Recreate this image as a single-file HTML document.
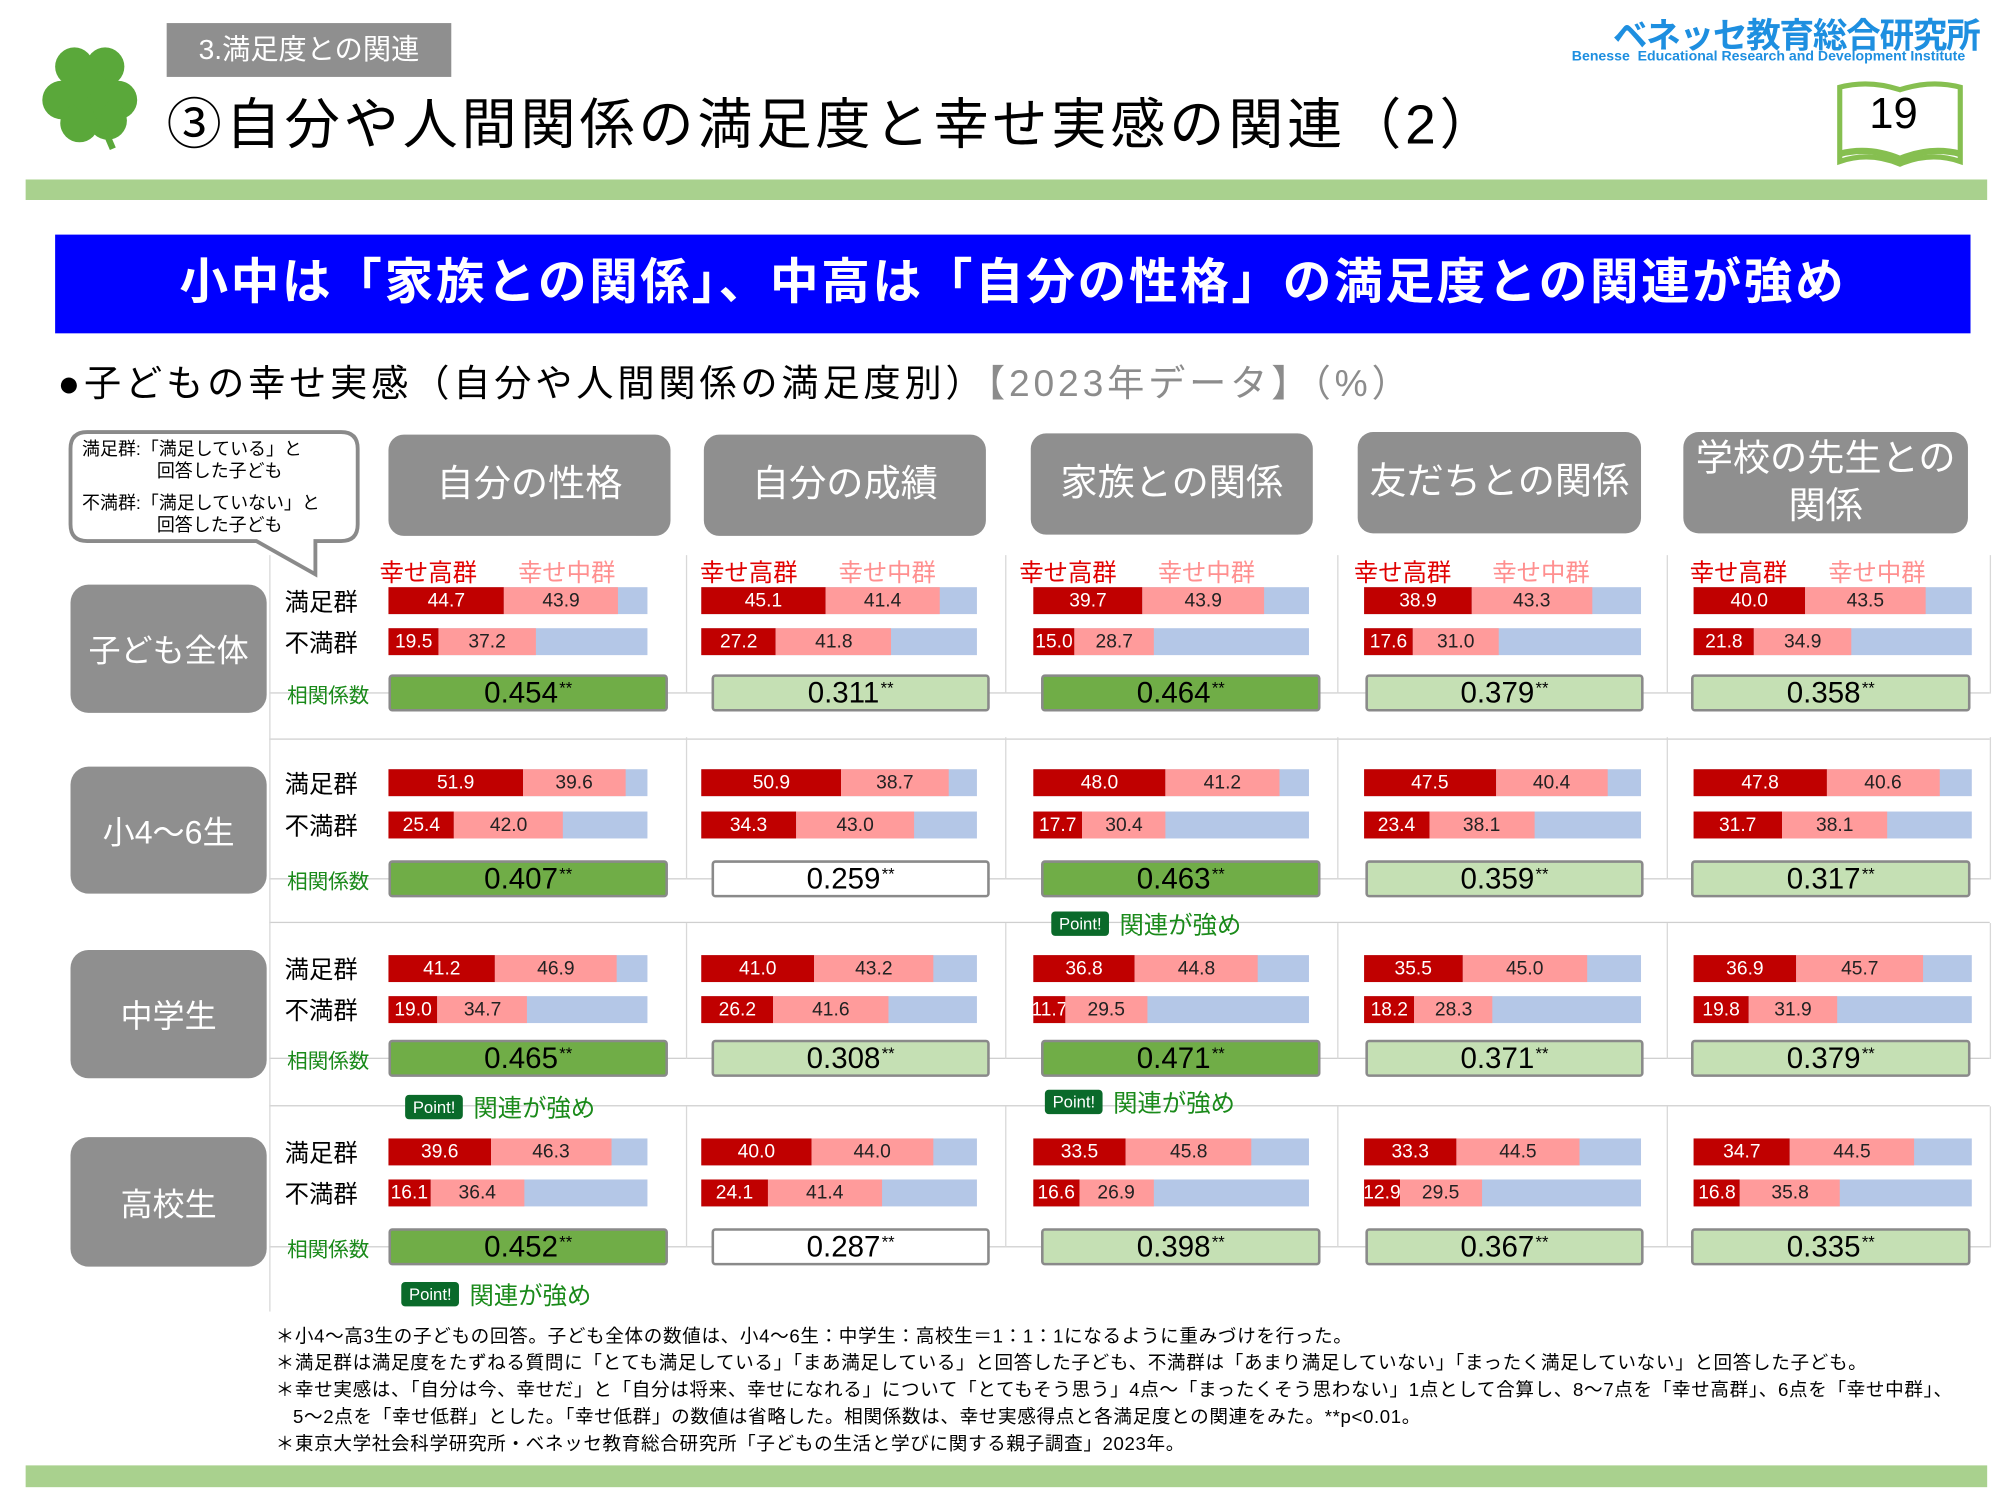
<!DOCTYPE html>
<html><head><meta charset="utf-8">
<style>
html,body{margin:0;padding:0;background:#fff;}
body{width:2000px;height:1500px;overflow:hidden;position:relative;}
#c{position:absolute;left:0;top:0;width:1560px;height:1170px;transform:scale(1.28205);transform-origin:0 0;font-family:"Liberation Sans","Noto Sans CJK JP",sans-serif;}
.a{position:absolute;white-space:nowrap;}
.hdr{position:absolute;background:#8f8f8f;border-radius:12px;color:#fff;font-size:29px;display:flex;align-items:center;justify-content:center;text-align:center;line-height:1.25;}
.rl{position:absolute;background:#8f8f8f;border-radius:14px;color:#fff;font-size:25px;display:flex;align-items:center;justify-content:center;left:55px;width:153px;}
.seg{position:absolute;height:100%;top:0;font-size:15px;display:flex;align-items:center;justify-content:center;overflow:hidden;}
.bar{position:absolute;height:21px;}
.corr{position:absolute;height:25px;border:2px solid #8a8a8a;border-radius:3px;font-size:23px;display:flex;align-items:center;justify-content:center;color:#000;}
.corr sup{font-size:13px;margin-left:1px;position:relative;top:-4px;}
.pt{position:absolute;font-size:19px;color:#1a8a1a;}
.pt b{display:inline-block;background:#0a6a2a;color:#fff;font-size:13px;font-weight:normal;padding:2px 6px;border-radius:3px;margin-right:8px;vertical-align:3px;}
.hl{position:absolute;height:1px;background:#cfcfcf;}
.vl{position:absolute;width:1px;background:#d8d8d8;}
</style></head><body><div id="c">
<svg class="a" style="left:28px;top:30px" width="86" height="88" viewBox="0 0 86 88">
<g fill="#5aa83a"><circle cx="30" cy="22" r="15"/><circle cx="54" cy="22" r="15"/><circle cx="20" cy="48" r="15"/><circle cx="64" cy="48" r="15"/><circle cx="34" cy="66" r="15"/><circle cx="56" cy="64" r="15"/><circle cx="42" cy="42" r="16"/></g>
<path d="M42 44 L60 86" stroke="#5aa83a" stroke-width="5"/></svg>
<div class="a" style="left:130px;top:18px;width:222px;height:42px;background:#8f8f8f;color:#fff;font-size:22px;line-height:42px;text-align:center;">3.満足度との関連</div>
<div class="a" style="left:130px;top:70px;font-size:43px;line-height:56px;color:#000;letter-spacing:3px;">③自分や人間関係の満足度と幸せ実感の関連（2）</div>
<div class="a" style="left:1258px;top:6px;font-size:27px;font-weight:bold;color:#1e8fe0;letter-spacing:-1px;">ベネッセ教育総合研究所</div>
<div class="a" style="left:1226px;top:38px;font-size:11px;font-weight:bold;color:#1e8fe0;">Benesse&nbsp; Educational Research and Development Institute</div>
<svg class="a" style="left:1430px;top:62px" width="104" height="70" viewBox="0 0 104 70"><path d="M5 6 Q28 0 52 8 Q76 0 99 6 L99 64 Q76 56 52 66 Q28 56 5 64 Z" fill="#fff" stroke="#86bf50" stroke-width="4"/><path d="M5 58 Q28 52 52 62 Q76 52 99 58" fill="none" stroke="#86bf50" stroke-width="5"/></svg>
<div class="a" style="left:1458px;top:70px;font-size:34px;color:#000;">19</div>
<div class="a" style="left:20px;top:140px;width:1530px;height:16px;background:#a9d18e;"></div>
<div class="a" style="left:43px;top:183px;width:1494px;height:77px;background:#0000ff;color:#fff;font-size:38px;font-weight:bold;line-height:77px;text-align:center;letter-spacing:2px;">小中は「家族との関係」、中高は「自分の性格」の満足度との関連が強め</div>
<div class="a" style="left:45px;top:276px;font-size:29px;color:#000;letter-spacing:3px;">●子どもの幸せ実感（自分や人間関係の満足度別）<span style="color:#8c8c8c">【2023年データ】（%）</span></div>
<svg class="a" style="left:50px;top:333px" width="240" height="122" viewBox="0 0 240 122"><path d="M18 4 H216 Q229 4 229 17 V76 Q229 89 216 89 H196 L196 115 L150 89 H18 Q5 89 5 76 V17 Q5 4 18 4 Z" fill="#fff" stroke="#8a8a8a" stroke-width="3"/></svg>
<div class="a" style="left:64px;top:342px;font-size:14px;line-height:17px;color:#000;">満足群:「満足している」と<br>&nbsp;&nbsp;&nbsp;&nbsp;&nbsp;&nbsp;&nbsp;&nbsp;&nbsp;&nbsp;&nbsp;&nbsp;&nbsp;&nbsp;&nbsp;回答した子ども</div>
<div class="a" style="left:64px;top:384px;font-size:14px;line-height:17px;color:#000;">不満群:「満足していない」と<br>&nbsp;&nbsp;&nbsp;&nbsp;&nbsp;&nbsp;&nbsp;&nbsp;&nbsp;&nbsp;&nbsp;&nbsp;&nbsp;&nbsp;&nbsp;回答した子ども</div>
<div id="g"></div>
<div class="a" style="left:215px;top:1033px;font-size:14.5px;line-height:21px;color:#000;letter-spacing:0.5px;">＊小4～高3生の子どもの回答。子ども全体の数値は、小4～6生：中学生：高校生＝1：1：1になるように重みづけを行った。<br>＊満足群は満足度をたずねる質問に「とても満足している」「まあ満足している」と回答した子ども、不満群は「あまり満足していない」「まったく満足していない」と回答した子ども。<br>＊幸せ実感は、「自分は今、幸せだ」と「自分は将来、幸せになれる」について「とてもそう思う」4点～「まったくそう思わない」1点として合算し、8～7点を「幸せ高群」、6点を「幸せ中群」、<br>&nbsp;&nbsp;&nbsp;5～2点を「幸せ低群」とした。「幸せ低群」の数値は省略した。相関係数は、幸せ実感得点と各満足度との関連をみた。**p&lt;0.01。<br>＊東京大学社会科学研究所・ベネッセ教育総合研究所「子どもの生活と学びに関する親子調査」2023年。</div>
<div class="a" style="left:20px;top:1143px;width:1530px;height:17px;background:#a9d18e;"></div>
</div>
<script>
var g=document.getElementById('g'),h='';
var cols=[{hx:303,hy:339,hw:220,t:'自分の性格',bx:303,bw:202,cx:303,cw:218,lx:296},
{hx:549,hy:339,hw:220,t:'自分の成績',bx:547,bw:215,cx:555,cw:217,lx:546},
{hx:804,hy:338,hw:220,t:'家族との関係',bx:806,bw:215,cx:812,cw:218,lx:795},
{hx:1059,hy:337,hw:221,t:'友だちとの関係',bx:1064,bw:216,cx:1065,cw:217,lx:1056},
{hx:1313,hy:337,hw:222,t:'学校の先生との<br>関係',bx:1321,bw:217,cx:1319,cw:218,lx:1318}];
var rows=[{l:'子ども全体',ry:456,rh:100,b1:458,b2:490,c:526},{l:'小4～6生',ry:598,rh:99,b1:600,b2:633,c:671},{l:'中学生',ry:741,rh:100,b1:745,b2:777,c:811},{l:'高校生',ry:887,rh:101,b1:888,b2:920,c:958}];
var D=[[[44.7,43.9,19.5,37.2,'.454',2],[51.9,39.6,25.4,42.0,'.407',2],[41.2,46.9,19.0,34.7,'.465',2],[39.6,46.3,16.1,36.4,'.452',2]],
[[45.1,41.4,27.2,41.8,'.311',1],[50.9,38.7,34.3,43.0,'.259',0],[41.0,43.2,26.2,41.6,'.308',1],[40.0,44.0,24.1,41.4,'.287',0]],
[[39.7,43.9,15.0,28.7,'.464',2],[48.0,41.2,17.7,30.4,'.463',2],[36.8,44.8,11.7,29.5,'.471',2],[33.5,45.8,16.6,26.9,'.398',1]],
[[38.9,43.3,17.6,31.0,'.379',1],[47.5,40.4,23.4,38.1,'.359',1],[35.5,45.0,18.2,28.3,'.371',1],[33.3,44.5,12.9,29.5,'.367',1]],
[[40.0,43.5,21.8,34.9,'.358',1],[47.8,40.6,31.7,38.1,'.317',1],[36.9,45.7,19.8,31.9,'.379',1],[34.7,44.5,16.8,35.8,'.335',1]]];
var fills=['#fff','#c5e0b4','#70ad47'];
[576,719,862].forEach(function(y){h+='<div class="hl" style="left:210px;top:'+y+'px;width:1342px"></div>';});
rows.forEach(function(r){h+='<div class="hl" style="left:210px;top:'+(r.c+14)+'px;width:1342px"></div>';});
[535,784,1043,1300,1552].forEach(function(x){rows.forEach(function(r){h+='<div class="vl" style="left:'+x+'px;top:'+(r.b1-25)+'px;height:'+(r.c-r.b1+40)+'px"></div>';});});
h+='<div class="vl" style="left:210px;top:433px;height:590px"></div>';
rows.forEach(function(r){h+='<div class="rl" style="top:'+r.ry+'px;height:'+r.rh+'px">'+r.l+'</div>';
h+='<div class="a" style="left:222px;top:'+(r.b1-3)+'px;font-size:19px">満足群</div>';
h+='<div class="a" style="left:222px;top:'+(r.b2-3)+'px;font-size:19px">不満群</div>';
h+='<div class="a" style="left:224px;top:'+(r.c+3)+'px;font-size:16px;color:#1a8a1a">相関係数</div>';});
function seg(x,w,bg,col,t){return '<div class="seg" style="left:'+x+'px;width:'+w+'px;background:'+bg+';color:'+col+'">'+(t||'')+'</div>';}
function bar(x,y,W,a,b){var wa=W*a/100,wb=W*b/100;return '<div class="bar" style="left:'+x+'px;top:'+y+'px;width:'+W+'px;background:#b4c7e7">'+seg(0,wa,'#c00000','#fff',a.toFixed(1))+seg(wa,wb,'#ff9b9b','#222',b.toFixed(1))+'</div>';}
cols.forEach(function(c,i){
h+='<div class="hdr" style="left:'+c.hx+'px;top:'+c.hy+'px;width:'+c.hw+'px;height:79px">'+c.t+'</div>';
h+='<div class="a" style="left:'+c.lx+'px;top:432px;font-size:19px;color:#e00000">幸せ高群</div><div class="a" style="left:'+(c.lx+108)+'px;top:432px;font-size:19px;color:#ff8f8f">幸せ中群</div>';
rows.forEach(function(r,j){var d=D[i][j];
h+=bar(c.bx,r.b1,c.bw,d[0],d[1]);h+=bar(c.bx,r.b2,c.bw,d[2],d[3]);
h+='<div class="corr" style="left:'+c.cx+'px;top:'+r.c+'px;width:'+(c.cw-4)+'px;background:'+fills[d[5]]+'">0'+d[4]+'<sup>**</sup></div>';});});
[[820,707],[316,850],[815,846],[313,996]].forEach(function(p){h+='<div class="pt" style="left:'+p[0]+'px;top:'+p[1]+'px"><b>Point!</b>関連が強め</div>';});
g.innerHTML=h;
</script>
</body></html>
